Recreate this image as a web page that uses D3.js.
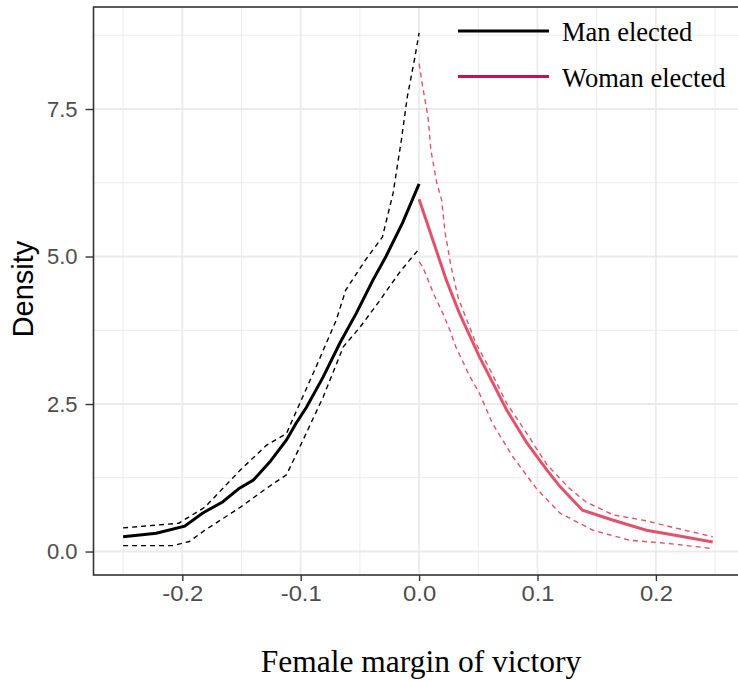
<!DOCTYPE html>
<html><head><meta charset="utf-8">
<script src="https://cdn.jsdelivr.net/npm/d3@7"></script>
<style>body{margin:0;background:#fff}svg{display:block}</style>
</head><body>
<svg id="c" width="738" height="681"></svg>
<script>
// ---- data ----
const manX = [-0.25,-0.222,-0.198,-0.183,-0.166,-0.152,-0.140,-0.126,-0.112,-0.104,-0.095,-0.081,-0.067,-0.053,-0.039,-0.028,-0.014,0];
const manY = [0.25,0.31,0.43,0.65,0.84,1.07,1.21,1.52,1.89,2.17,2.45,2.96,3.53,4.04,4.60,5.00,5.57,6.23];
const manUpX = [-0.25,-0.203,-0.181,-0.151,-0.129,-0.112,-0.101,-0.087,-0.07,-0.062,-0.045,-0.031,-0.022,-0.015,-0.01,-0.004,0];
const manUpY = [0.40,0.48,0.75,1.38,1.80,2.00,2.50,3.13,3.92,4.43,4.95,5.33,6.07,6.97,7.70,8.33,8.79];
const manLoX = [-0.25,-0.208,-0.194,-0.181,-0.151,-0.129,-0.112,-0.098,-0.081,-0.064,-0.05,-0.033,-0.024,-0.015,0];
const manLoY = [0.10,0.10,0.17,0.36,0.75,1.07,1.30,1.89,2.62,3.47,3.80,4.26,4.52,4.77,5.13];
const womX = [0,0.023,0.034,0.051,0.074,0.091,0.108,0.119,0.138,0.164,0.192,0.215,0.248];
const womY = [5.97,4.60,4.04,3.30,2.40,1.84,1.38,1.10,0.70,0.53,0.36,0.28,0.16];
const womUpX = [0,0.003,0.0075,0.01,0.015,0.019,0.022,0.027,0.033,0.048,0.06,0.074,0.091,0.108,0.127,0.141,0.164,0.192,0.212,0.248];
const womUpY = [8.27,7.88,7.37,6.80,6.24,5.96,5.40,4.83,4.30,3.53,3.08,2.51,2.00,1.47,1.07,0.84,0.62,0.52,0.42,0.25];
const womLoX = [0,0.003,0.012,0.02,0.026,0.031,0.043,0.051,0.062,0.079,0.099,0.119,0.147,0.178,0.209,0.248];
const womLoY = [4.91,4.83,4.38,4.04,3.75,3.47,2.96,2.68,2.17,1.61,1.07,0.65,0.36,0.19,0.14,0.05];
const xTicks = [-0.2,-0.1,0.0,0.1,0.2];
const xTickLabels = ["-0.2","-0.1","0.0","0.1","0.2"];
const yTicks = [0,2.5,5,7.5];
const yTickLabels = ["0.0","2.5","5.0","7.5"];
const xMinor = [-0.25,-0.15,-0.05,0.05,0.15,0.25];
const yMinor = [1.25,3.75,6.25,8.75];
const legendLabels = ["Man elected","Woman elected"];

// ---- layout ----
const svg = d3.select("#c");
const L = 93.5, R = 744.7, T = 7, B = 575;
const x = d3.scaleLinear().domain([-0.275,0.275]).range([L,R]);
const y = d3.scaleLinear().domain([-0.398,9.229]).range([B,T]);
const RED = "#e0536b", LEGRED = "#c8104a";
const SANS = "Liberation Sans, Arial, sans-serif";
const SERIF = "Liberation Serif, Times New Roman, serif";

const g = svg.append("g");
// grid
g.selectAll(".vmin").data(xMinor).join("line")
  .attr("x1",d=>x(d)).attr("x2",d=>x(d)).attr("y1",T).attr("y2",B)
  .attr("stroke","#ebebeb").attr("stroke-width",1);
g.selectAll(".hmin").data(yMinor).join("line")
  .attr("x1",L).attr("x2",R).attr("y1",d=>y(d)).attr("y2",d=>y(d))
  .attr("stroke","#ebebeb").attr("stroke-width",1);
g.selectAll(".vmaj").data(xTicks).join("line")
  .attr("x1",d=>x(d)).attr("x2",d=>x(d)).attr("y1",T).attr("y2",B)
  .attr("stroke","#ebebeb").attr("stroke-width",1.8);
g.selectAll(".hmaj").data(yTicks).join("line")
  .attr("x1",L).attr("x2",R).attr("y1",d=>y(d)).attr("y2",d=>y(d))
  .attr("stroke","#ebebeb").attr("stroke-width",1.8);

// lines
const line = d3.line().x(d=>x(d[0])).y(d=>y(d[1]));
const zip = (a,b)=>a.map((v,i)=>[v,b[i]]);
const series = [
  {d:zip(manUpX,manUpY), c:"#000", w:1.4, dash:"5,4"},
  {d:zip(manLoX,manLoY), c:"#000", w:1.4, dash:"5,4"},
  {d:zip(womUpX,womUpY), c:RED, w:1.4, dash:"5,4"},
  {d:zip(womLoX,womLoY), c:RED, w:1.4, dash:"5,4"},
  {d:zip(manX,manY), c:"#000", w:3, dash:null},
  {d:zip(womX,womY), c:RED, w:3, dash:null}
];
series.forEach(s=>{
  g.append("path").attr("d",line(s.d)).attr("fill","none")
   .attr("stroke",s.c).attr("stroke-width",s.w)
   .attr("stroke-dasharray",s.dash);
});

// panel border
g.append("rect").attr("x",L).attr("y",T).attr("width",R-L).attr("height",B-T)
  .attr("fill","none").attr("stroke","#333").attr("stroke-width",1.6);

// axes
const xAxis = d3.axisBottom(x).tickValues(xTicks).tickFormat((d,i)=>xTickLabels[i]).tickSize(6).tickPadding(4);
const ax = svg.append("g").attr("transform",`translate(0,${B})`).call(xAxis);
ax.select(".domain").remove();
ax.selectAll("line").attr("stroke","#333").attr("stroke-width",1.4);
ax.selectAll("text").attr("font-family",SANS).attr("font-size",22).attr("fill","#4d4d4d")
  .attr("transform","scale(1.08,1)").attr("dy","0.71em");

const yAxis = d3.axisLeft(y).tickValues(yTicks).tickFormat((d,i)=>yTickLabels[i]).tickSize(8).tickPadding(8);
const ay = svg.append("g").attr("transform",`translate(${L},0)`).call(yAxis);
ay.select(".domain").remove();
ay.selectAll("line").attr("stroke","#333").attr("stroke-width",1.4);
ay.selectAll("text").attr("font-family",SANS).attr("font-size",22).attr("fill","#4d4d4d");

// axis titles
svg.append("text").attr("x",421).attr("y",672).attr("text-anchor","middle")
  .attr("font-family",SERIF).attr("font-size",31.5)
  .text("Female margin of victory");
svg.append("text").attr("transform","translate(33,289) rotate(-90)").attr("text-anchor","middle")
  .attr("font-family",SANS).attr("font-size",29)
  .text("Density");

// legend
const legColors = ["#000", LEGRED];
const legY = [31, 76.5];
legendLabels.forEach((lab,i)=>{
  svg.append("line").attr("x1",458).attr("x2",549).attr("y1",legY[i]).attr("y2",legY[i])
    .attr("stroke",legColors[i]).attr("stroke-width",2.8);
  svg.append("text").attr("x",562).attr("y",legY[i]+10).attr("font-family",SERIF)
    .attr("font-size",26.5).text(lab);
});
</script>
</body></html>
